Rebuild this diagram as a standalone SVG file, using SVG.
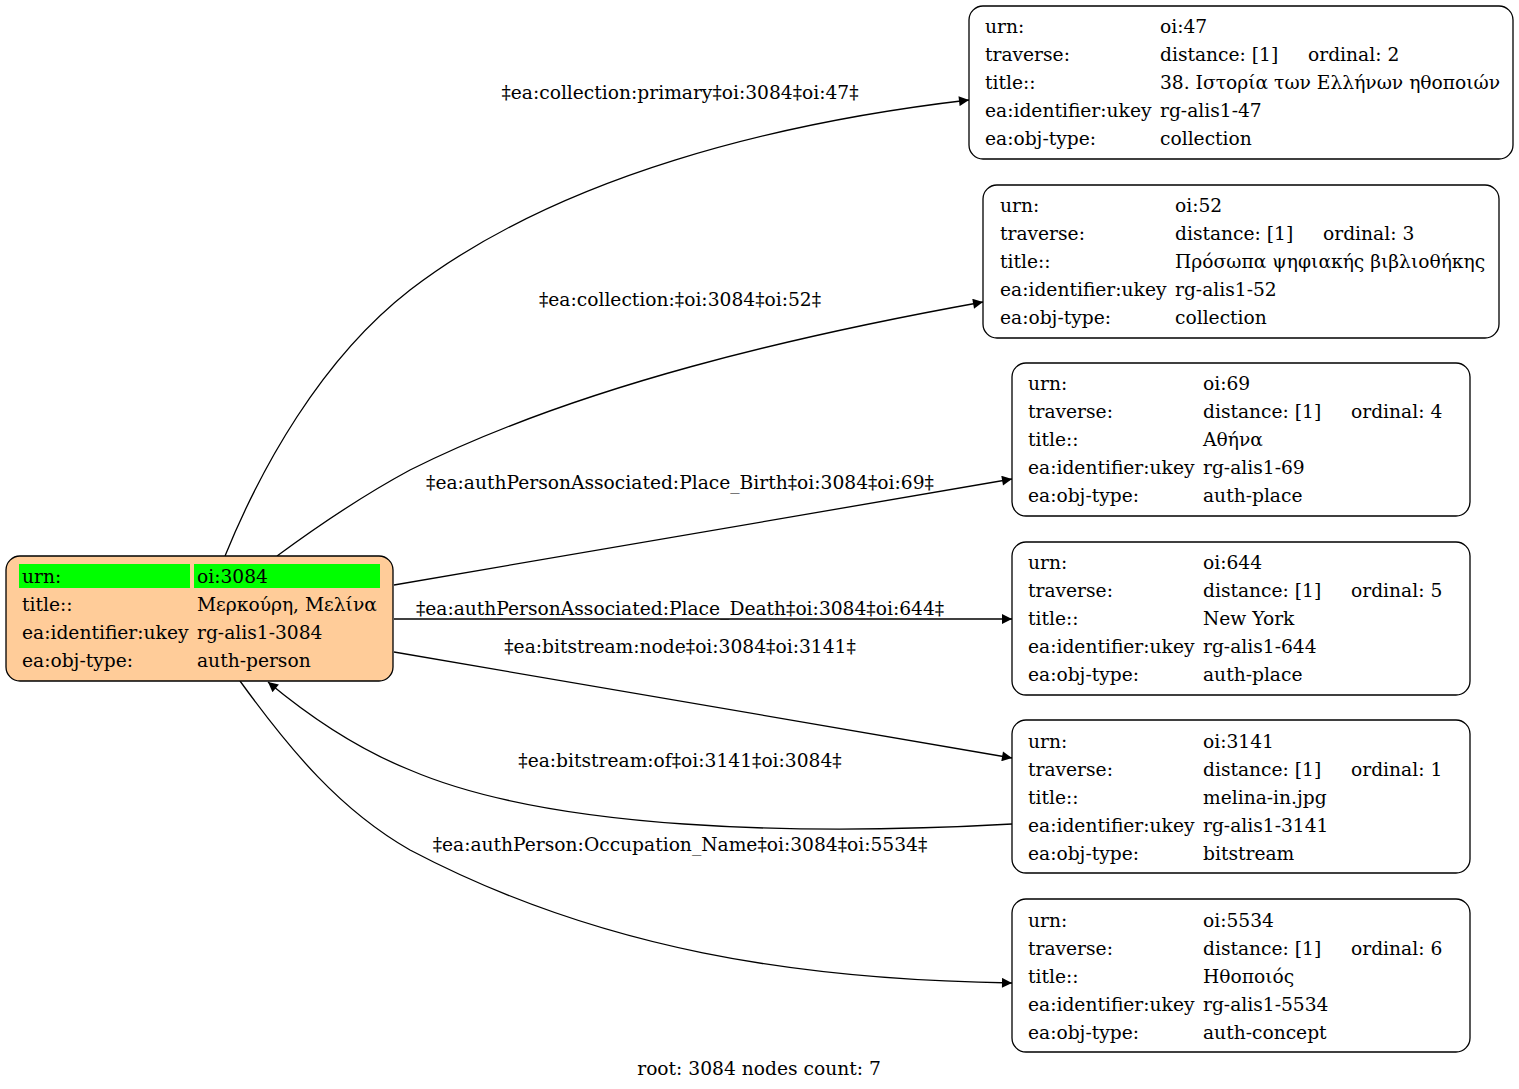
<svg xmlns="http://www.w3.org/2000/svg" width="1519" height="1089" viewBox="0 0 1519 1089">
<defs>
<style>
text{font-family:"DejaVu Serif","Liberation Serif",serif;font-size:18.67px;fill:#000}
.box{fill:#fff;stroke:#000;stroke-width:1.3}
.root{fill:#ffcc99;stroke:#000;stroke-width:1.3}
.edge{fill:none;stroke:#000;stroke-width:1.3}
.lbl{text-anchor:middle}
</style>
<marker id="arr" viewBox="0 0 10 10" refX="10" refY="5" markerWidth="14" markerHeight="10" markerUnits="userSpaceOnUse" orient="auto">
<path d="M0,0 L10,5 L0,10 z" fill="#000"/>
</marker>
</defs>
<rect width="1519" height="1089" fill="#fff"/>
<g id="connectors">
<path class="edge" marker-end="url(#arr)" d="M225,556 C260,470 320,360 410,290 C560,175 780,122 969,100"/>
<text class="lbl" x="680" y="99">‡ea:collection:primary‡oi:3084‡oi:47‡</text>
<path class="edge" marker-end="url(#arr)" d="M277,556 C315,528 360,497 410,470 C580,385 800,335 983,302"/>
<text class="lbl" x="680" y="306">‡ea:collection:‡oi:3084‡oi:52‡</text>
<path class="edge" marker-end="url(#arr)" d="M394,585 L1012,479"/>
<text class="lbl" x="680" y="489">‡ea:authPersonAssociated:Place_Birth‡oi:3084‡oi:69‡</text>
<path class="edge" marker-end="url(#arr)" d="M394,619 L1012,619"/>
<text class="lbl" x="680" y="615">‡ea:authPersonAssociated:Place_Death‡oi:3084‡oi:644‡</text>
<path class="edge" marker-end="url(#arr)" d="M394,652 L1012,758"/>
<text class="lbl" x="680" y="653">‡ea:bitstream:node‡oi:3084‡oi:3141‡</text>
<path class="edge" marker-end="url(#arr)" d="M1012,824 C800,836 550,830 410,770 C360,750 310,717 268,682"/>
<text class="lbl" x="680" y="767">‡ea:bitstream:of‡oi:3141‡oi:3084‡</text>
<path class="edge" marker-end="url(#arr)" d="M240,681 C290,750 340,810 410,850 C600,950 800,980 1012,983"/>
<text class="lbl" x="680" y="851">‡ea:authPerson:Occupation_Name‡oi:3084‡oi:5534‡</text>
</g>
<g id="node-3084">
<rect class="root" x="6" y="556" width="387" height="125" rx="14"/>
<rect x="19" y="564" width="171" height="24" fill="#00ff00"/>
<rect x="194" y="564" width="186" height="24" fill="#00ff00"/>
<text x="22" y="583">urn:</text><text x="197" y="583">oi:3084</text>
<text x="22" y="611">title::</text><text x="197" y="611">Μερκούρη, Μελίνα</text>
<text x="22" y="639">ea:identifier:ukey</text><text x="197" y="639">rg-alis1-3084</text>
<text x="22" y="667">ea:obj-type:</text><text x="197" y="667">auth-person</text>
</g>
<g id="node-47">
<rect class="box" x="969" y="6" width="544" height="153" rx="14"/>
<text x="985" y="33">urn:</text><text x="1160" y="33">oi:47</text>
<text x="985" y="61">traverse:</text><text x="1160" y="61">distance: [1]</text><text x="1308" y="61">ordinal: 2</text>
<text x="985" y="89">title::</text><text x="1160" y="89">38. Ιστορία των Ελλήνων ηθοποιών</text>
<text x="985" y="117">ea:identifier:ukey</text><text x="1160" y="117">rg-alis1-47</text>
<text x="985" y="145">ea:obj-type:</text><text x="1160" y="145">collection</text>
</g>
<g id="node-52">
<rect class="box" x="983" y="185" width="516" height="153" rx="14"/>
<text x="1000" y="212">urn:</text><text x="1175" y="212">oi:52</text>
<text x="1000" y="240">traverse:</text><text x="1175" y="240">distance: [1]</text><text x="1323" y="240">ordinal: 3</text>
<text x="1000" y="268">title::</text><text x="1175" y="268">Πρόσωπα ψηφιακής βιβλιοθήκης</text>
<text x="1000" y="296">ea:identifier:ukey</text><text x="1175" y="296">rg-alis1-52</text>
<text x="1000" y="324">ea:obj-type:</text><text x="1175" y="324">collection</text>
</g>
<g id="node-69">
<rect class="box" x="1012" y="363" width="458" height="153" rx="14"/>
<text x="1028" y="390">urn:</text><text x="1203" y="390">oi:69</text>
<text x="1028" y="418">traverse:</text><text x="1203" y="418">distance: [1]</text><text x="1351" y="418">ordinal: 4</text>
<text x="1028" y="446">title::</text><text x="1203" y="446">Αθήνα</text>
<text x="1028" y="474">ea:identifier:ukey</text><text x="1203" y="474">rg-alis1-69</text>
<text x="1028" y="502">ea:obj-type:</text><text x="1203" y="502">auth-place</text>
</g>
<g id="node-644">
<rect class="box" x="1012" y="542" width="458" height="153" rx="14"/>
<text x="1028" y="569">urn:</text><text x="1203" y="569">oi:644</text>
<text x="1028" y="597">traverse:</text><text x="1203" y="597">distance: [1]</text><text x="1351" y="597">ordinal: 5</text>
<text x="1028" y="625">title::</text><text x="1203" y="625">New York</text>
<text x="1028" y="653">ea:identifier:ukey</text><text x="1203" y="653">rg-alis1-644</text>
<text x="1028" y="681">ea:obj-type:</text><text x="1203" y="681">auth-place</text>
</g>
<g id="node-3141">
<rect class="box" x="1012" y="720" width="458" height="153" rx="14"/>
<text x="1028" y="748">urn:</text><text x="1203" y="748">oi:3141</text>
<text x="1028" y="776">traverse:</text><text x="1203" y="776">distance: [1]</text><text x="1351" y="776">ordinal: 1</text>
<text x="1028" y="804">title::</text><text x="1203" y="804">melina-in.jpg</text>
<text x="1028" y="832">ea:identifier:ukey</text><text x="1203" y="832">rg-alis1-3141</text>
<text x="1028" y="860">ea:obj-type:</text><text x="1203" y="860">bitstream</text>
</g>
<g id="node-5534">
<rect class="box" x="1012" y="899" width="458" height="153" rx="14"/>
<text x="1028" y="927">urn:</text><text x="1203" y="927">oi:5534</text>
<text x="1028" y="955">traverse:</text><text x="1203" y="955">distance: [1]</text><text x="1351" y="955">ordinal: 6</text>
<text x="1028" y="983">title::</text><text x="1203" y="983">Ηθοποιός</text>
<text x="1028" y="1011">ea:identifier:ukey</text><text x="1203" y="1011">rg-alis1-5534</text>
<text x="1028" y="1039">ea:obj-type:</text><text x="1203" y="1039">auth-concept</text>
</g>
<text class="lbl" x="759" y="1075">root: 3084 nodes count: 7</text>
</svg>
